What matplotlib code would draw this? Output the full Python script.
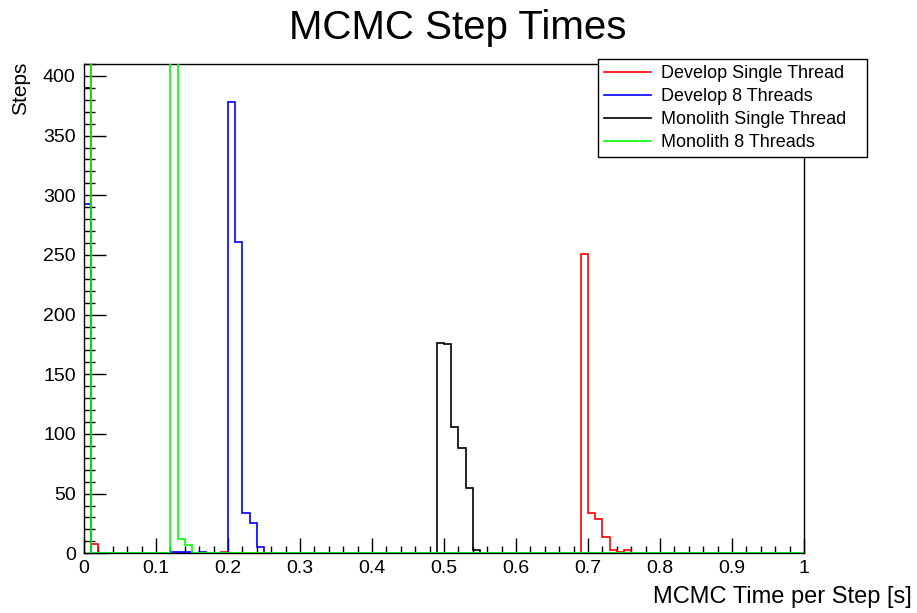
import numpy as np
import matplotlib
matplotlib.use("Agg")
import matplotlib.pyplot as plt
from matplotlib.lines import Line2D
from matplotlib.ticker import MultipleLocator, FuncFormatter

plt.rcParams["font.family"] = ["Liberation Sans", "DejaVu Sans"]

# step time histograms: bin centres [s] and entries per bin (100 bins on 0..1 s)
dev_single_t = [0.005, 0.015, 0.195, 0.695, 0.705, 0.715, 0.725, 0.735, 0.745, 0.755]
dev_single_n = [656, 8, 1, 251, 34, 29, 14, 3, 1, 3]

dev_mt_t = [0.005, 0.125, 0.135, 0.145, 0.165, 0.205, 0.215, 0.225, 0.235, 0.245]
dev_mt_n = [293, 1, 1, 1, 1, 378, 261, 34, 25, 5]

mono_single_t = [0.005, 0.495, 0.505, 0.515, 0.525, 0.535, 0.545]
mono_single_n = [390, 176, 175, 106, 88, 55, 3]

mono_mt_t = [0.005, 0.125, 0.135, 0.145]
mono_mt_n = [452, 529, 12, 7]

# (label, times, counts, colour, draw order)
series = [
    ("Develop Single Thread", dev_single_t, dev_single_n, "#ff0000", 3.1),
    ("Develop 8 Threads", dev_mt_t, dev_mt_n, "#0000ff", 3.2),
    ("Monolith Single Thread", mono_single_t, mono_single_n, "#000000", 3.0),
    ("Monolith 8 Threads", mono_mt_t, mono_mt_n, "#00ff00", 3.3),
]

fig = plt.figure(figsize=(9.17, 6.13), dpi=100)
ax = fig.add_axes([0.0916, 0.0974, 0.7852, 0.7982])

handles = []
for label, t, n, col, z in series:
    ax.hist(t, bins=100, range=(0, 1), weights=n, histtype="step",
            color=col, lw=1.2, zorder=z)
    handles.append(Line2D([], [], color=col, lw=1.2, label=label))

ax.set_xlim(0, 1)
ax.set_ylim(0, 410)

# ROOT-like ticks: inside, bottom/left only
ax.xaxis.set_major_locator(MultipleLocator(0.1))
ax.xaxis.set_minor_locator(MultipleLocator(0.02))
ax.yaxis.set_major_locator(MultipleLocator(50))
ax.yaxis.set_minor_locator(MultipleLocator(10))
ax.tick_params(axis="x", which="major", direction="in", length=10.6, width=1, labelsize=14, pad=5)
ax.tick_params(axis="x", which="minor", direction="in", length=5.3, width=1)
ax.tick_params(axis="y", which="major", direction="in", length=15.5, width=1, labelsize=14, pad=6)
ax.tick_params(axis="y", which="minor", direction="in", length=7.8, width=1)
ax.xaxis.set_major_formatter(FuncFormatter(lambda v, p: f"{v:g}"))
for name, s in ax.spines.items():
    s.set_linewidth(1)
ax.spines["left"].set_zorder(4)
ax.spines["bottom"].set_zorder(2)

fig.text(0.499, 0.954, "MCMC Step Times", ha="center", va="center", fontsize=29)
fig.text(0.994, 0.026, "MCMC Time per Step [s]", ha="right", va="center", fontsize=17)
fig.text(0.022, 0.9, "Steps", ha="center", va="top", rotation=90, fontsize=15)

leg = ax.legend(handles=handles, loc="upper left",
                bbox_to_anchor=(0.652, 0.7504, 0.2935, 0.1534), bbox_transform=fig.transFigure,
                mode="expand", fontsize=13, frameon=True, fancybox=False, edgecolor="black",
                framealpha=1, handlelength=2.6, handletextpad=0.55, labelspacing=0.33,
                borderpad=0.35, borderaxespad=0)
leg.get_frame().set_linewidth(1)
leg.set_zorder(5)

fig.savefig("out.png", dpi=100)
